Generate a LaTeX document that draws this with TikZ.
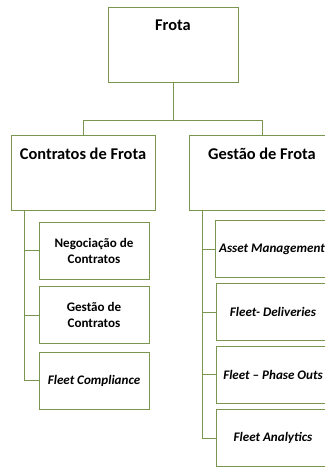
\documentclass[tikz,border=0pt]{standalone}
\usepackage{fontspec}
\setmainfont{Carlito}
\definecolor{olivebox}{RGB}{122,150,78}
\tikzset{
  topbox/.style={draw=olivebox, line width=0.6pt, minimum width=#1, minimum height=75*0.75pt, inner sep=0pt},
  subbox/.style={draw=olivebox, line width=0.6pt, minimum width=#1, minimum height=57*0.75pt, inner sep=0pt,
    align=center, font=\fontsize{9.8}{12}\selectfont\bfseries},
  boxtitle/.style={anchor=north, yshift=-9*0.75pt, font=\fontsize{12.3}{14}\selectfont\bfseries},
  link/.style={draw=olivebox, line width=0.6pt}
}
\begin{document}
\begin{tikzpicture}[x=0.75pt,y=0.75pt,yscale=-1]
\useasboundingbox (0,0) rectangle (325,468);
\clip (0,0) rectangle (325,468);

% top level
\node [topbox=130*0.75pt, label={[boxtitle]north:Frota}] (frota) at (173,44.5) {};
\coordinate (split) at (173,120);

% second level
\node [topbox=144*0.75pt, label={[boxtitle]north:Contratos de Frota}] (contratos) at (83,172.5) {};
\node [topbox=146*0.75pt, label={[boxtitle]north:Gestão de Frota}] (gestao) at (262,172.5) {};

% contratos children
\node [subbox=110*0.75pt] (negociacao) at (94,250.5) {Negociação de\\Contratos};
\node [subbox=110*0.75pt] (gestaocontr) at (94,315) {Gestão de\\Contratos};
\node [subbox=110*0.75pt] (compliance) at (94,380.5) {\itshape Fleet Compliance};

% gestao children
\node [subbox=114*0.75pt] (asset) at (272,249) {\itshape Asset Management};
\node [subbox=114*0.75pt] (deliveries) at (273,312) {\itshape Fleet- Deliveries};
\node [subbox=114*0.75pt] (phaseouts) at (273,374.5) {\itshape Fleet -- Phase Outs};
\node [subbox=114*0.75pt] (analytics) at (273,438) {\itshape Fleet Analytics};

% connectors
\draw [link] (frota.south) -- (split) -| (contratos.north);
\draw [link] (split) -| (gestao.north);
\draw [link] ([xshift=14*0.75pt]contratos.south west) |- (negociacao.west);
\draw [link] ([xshift=14*0.75pt]contratos.south west) |- (gestaocontr.west);
\draw [link] ([xshift=14*0.75pt]contratos.south west) |- (compliance.west);
\draw [link] ([xshift=14*0.75pt]gestao.south west) |- (asset.west);
\draw [link] ([xshift=14*0.75pt]gestao.south west) |- (deliveries.west);
\draw [link] ([xshift=14*0.75pt]gestao.south west) |- (phaseouts.west);
\draw [link] ([xshift=14*0.75pt]gestao.south west) |- (analytics.west);

\end{tikzpicture}
\end{document}
